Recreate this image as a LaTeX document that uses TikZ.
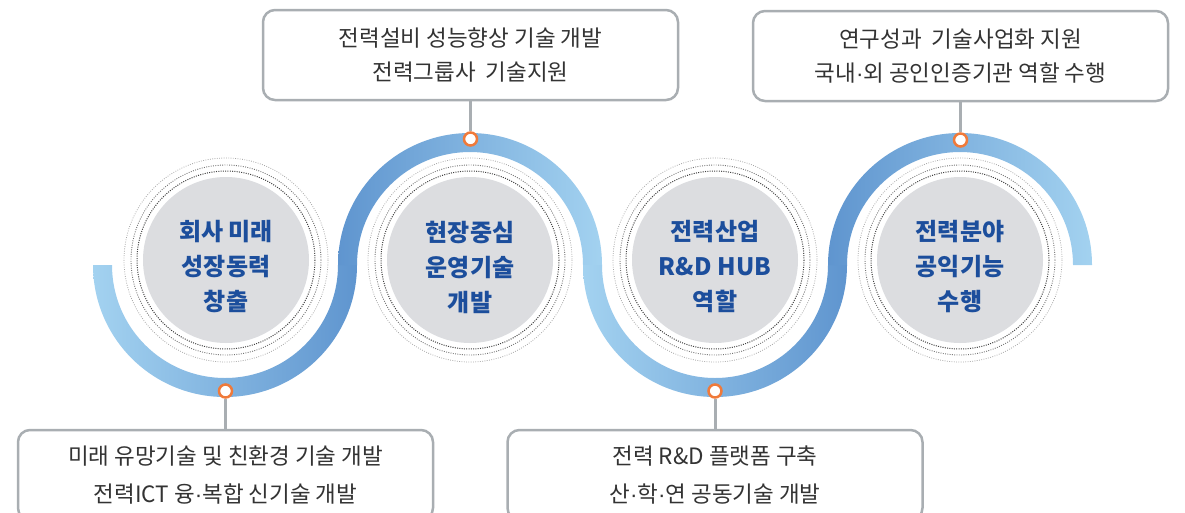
\documentclass[tikz,border=0pt]{standalone}
\usepackage{fontspec}
\setmainfont{Noto Sans CJK KR}
\newfontfamily\narrowdot{Liberation Sans}
\newcommand\mdot{{\narrowdot\char"00B7}}
\definecolor{bandlight}{HTML}{A3D2F0}
\definecolor{banddark}{HTML}{5F95CF}
\definecolor{hubgray}{HTML}{DCDDE0}
\definecolor{hubblue}{HTML}{1C4E9C}
\definecolor{boxgray}{HTML}{A9AEB2}
\definecolor{txtgray}{HTML}{333333}
\definecolor{pinorange}{HTML}{F07A3A}
\begin{document}
\begin{tikzpicture}[x=1pt,y=-1pt,
  hub/.style={circle, fill=hubgray, minimum size=166pt, inner sep=0pt},
  hubtext/.style={text=hubblue, align=center, inner sep=0pt,
    font=\fontsize{24}{35}\selectfont\bfseries},
  infobox/.style={draw=boxgray, line width=2.5pt, rounded corners=12pt,
    minimum width=415pt, minimum height=90pt, inner sep=0pt, align=center,
    text=txtgray, font=\fontsize{22.5}{34}\selectfont},
  lowbox/.style={infobox, font=\fontsize{22.5}{38}\selectfont},
  pin/.style={circle, draw=pinorange, line width=2.5pt, fill=white,
    minimum size=13pt, inner sep=0pt},
  link/.style={draw=boxgray, line width=3pt},
  ringA/.style={draw=black!75, line width=1pt, dash pattern=on 1pt off 1.3pt},
  ringB/.style={draw=black!55, line width=0.9pt, dash pattern=on 0.9pt off 1.4pt},
  ringC/.style={draw=black!35, line width=0.8pt, dash pattern=on 0.8pt off 1.5pt}]
\useasboundingbox (0,0) rectangle (1185,512);
\clip (0,0) rectangle (1185,512);

% wave band: four half rings, each shaded left to right
\shade[left color=bandlight, right color=banddark]
  (93,265) arc[start angle=180, end angle=0, radius=132]
  -- (338,265) arc[start angle=0, end angle=180, radius=113] -- cycle;
\shade[left color=banddark, right color=bandlight]
  (338,265) arc[start angle=180, end angle=360, radius=132]
  -- (583,265) arc[start angle=360, end angle=180, radius=113] -- cycle;
\shade[left color=bandlight, right color=banddark]
  (583,265) arc[start angle=180, end angle=0, radius=132]
  -- (828,265) arc[start angle=0, end angle=180, radius=113] -- cycle;
\shade[left color=banddark, right color=bandlight]
  (828,265) arc[start angle=180, end angle=360, radius=132]
  -- (1073,265) arc[start angle=360, end angle=180, radius=113] -- cycle;

% hubs with their dotted rings
\node[hub] (c1) at (226,260) {};
\node[hub] (c2) at (470,260) {};
\node[hub] (c3) at (715,260) {};
\node[hub] (c4) at (960,260) {};
\foreach \c in {c1,c2,c3,c4}{
  \draw[ringA] (\c.center) circle[radius=89];
  \draw[ringB] (\c.center) circle[radius=95];
  \draw[ringC] (\c.center) circle[radius=102];
}
\node[hubtext] (t1) at (226,267) {회사 미래\\성장동력\\창출};
\node[hubtext] (t2) at (470,267) {현장중심\\운영기술\\개발};
\node[hubtext] (t3) at (715,267) {전력산업\\R\&D HUB\\역할};
\node[hubtext] (t4) at (960,267) {전력분야\\공익기능\\수행};

% description boxes
\node[lowbox] (b1) at (225.5,475) {미래 유망기술 및 친환경 기술 개발\\전력ICT 융\mdot 복합 신기술 개발};
\node[infobox] (b2) at (470.5,55) {전력설비 성능향상 기술 개발\\전력그룹사\ \ 기술지원};
\node[lowbox] (b3) at (715,475) {전력 R\&D 플랫폼 구축\\산\mdot 학\mdot 연 공동기술 개발};
\node[infobox] (b4) at (960.5,56) {연구성과\ \ 기술사업화 지원\\국내\mdot 외 공인인증기관 역할 수행};

% pins on the band
\node[pin] (m1) at (225.5,391) {};
\node[pin] (m2) at (470.5,139) {};
\node[pin] (m3) at (715,391) {};
\node[pin] (m4) at (960.5,140) {};

% connectors
\draw[link] (b1.north) -- (m1);
\draw[link] (b2.south) -- (m2);
\draw[link] (b3.north) -- (m3);
\draw[link] (b4.south) -- (m4);
\end{tikzpicture}
\end{document}
